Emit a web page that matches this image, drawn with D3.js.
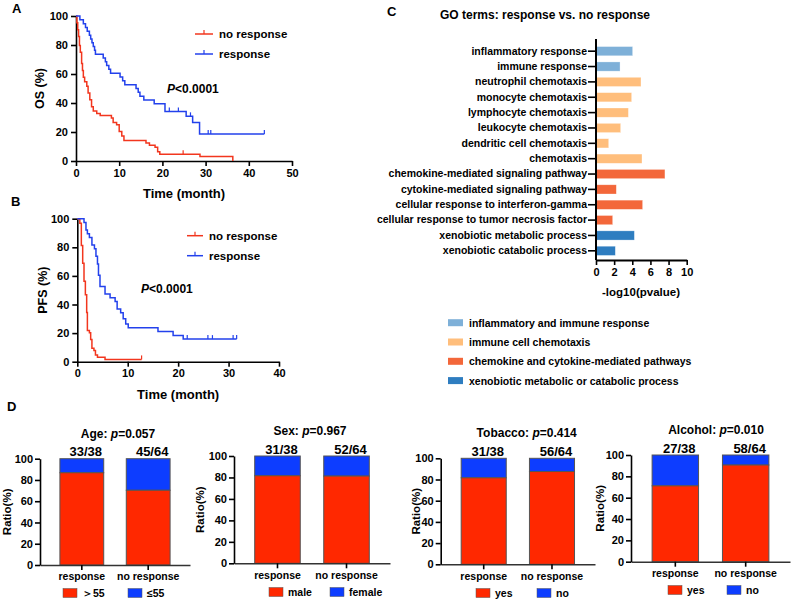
<!DOCTYPE html>
<html><head><meta charset="utf-8">
<script src="https://cdn.jsdelivr.net/npm/d3@7"></script>
<style>
body{margin:0;background:#fff}
svg text{font-family:"Liberation Sans",Arial,Helvetica,sans-serif;font-weight:bold;fill:#000}
</style>
</head><body>
<svg id="c" width="791" height="600"></svg>
<script>
// ---------------- DATA ----------------
// Panel A: overall survival (OS, %)
const osNoRespTime = [0, 0.2, 0.4, 0.6, 0.8, 1.0, 1.3, 1.5, 1.7, 2.0, 2.5, 2.8, 3.2, 3.6, 4.0, 4.8, 5.6, 8.2, 8.6, 9.4, 10.0, 10.6, 11.1, 16.2, 17.0, 18.3, 18.9, 19.4, 28.7, 36.3];
const osNoRespSurv = [100, 95.3, 90.6, 85.9, 79.7, 75.0, 67.2, 62.5, 57.8, 54.7, 51.6, 46.9, 42.2, 37.5, 34.4, 32.8, 31.3, 29.7, 26.6, 25.0, 20.3, 17.2, 14.1, 12.5, 10.9, 9.4, 6.3, 4.7, 3.1, 0];
const osNoRespCensor = [24.8];
const osNoRespEnd = 36.3;
const osRespTime = [0, 0.9, 1.7, 2.2, 2.6, 3.1, 3.4, 3.7, 4.0, 4.3, 4.5, 6.3, 6.8, 7.1, 7.6, 8.0, 10.2, 10.8, 11.3, 13.9, 14.4, 14.8, 15.7, 18.1, 20.6, 25.5, 27.0, 28.6];
const osRespSurv = [100, 97.4, 94.7, 92.1, 89.5, 86.8, 84.2, 81.6, 78.9, 76.3, 73.7, 71.1, 68.4, 65.8, 63.2, 60.5, 57.9, 55.3, 52.6, 50.0, 47.4, 44.7, 42.1, 39.5, 34.2, 30.8, 26.5, 18.6];
const osRespCensor = [21.6, 23.7, 26.5, 30.6, 31.2, 43.6];
const osRespEnd = 43.6;
const osXTicks = [0, 10, 20, 30, 40, 50];

// Panel B: progression-free survival (PFS, %)
const pfsNoRespTime = [0, 0.5, 0.8, 1.07, 1.33, 1.6, 1.86, 2.0, 2.4, 2.65, 2.9, 3.3, 3.6, 4.0, 5.5];
const pfsNoRespSurv = [100, 96.9, 81.3, 68.8, 56.3, 46.9, 34.4, 21.9, 20.3, 15.6, 9.4, 7.8, 4.7, 3.1, 1.6];
const pfsNoRespCensor = [12.75];
const pfsNoRespEnd = 12.75;
const pfsRespTime = [0, 1.33, 1.72, 2.0, 2.4, 2.9, 3.4, 3.7, 4.0, 4.2, 4.5, 5.5, 6.5, 7.5, 7.9, 8.6, 9.1, 9.6, 10.1, 16.0, 19.0, 21.0];
const pfsRespSurv = [100, 97.4, 92.1, 89.5, 86.8, 81.6, 78.9, 73.7, 68.4, 60.5, 52.6, 47.4, 44.7, 42.1, 36.8, 34.2, 30.0, 26.3, 23.7, 21.1, 18.4, 15.8];
const pfsRespCensor = [21.8, 25.9, 26.8, 30.9, 31.6];
const pfsRespEnd = 31.6;
const pfsXTicks = [0, 10, 20, 30, 40];

const kmYTicks = [0, 20, 40, 60, 80, 100];
const kmLegend = ["no response", "response"];

// Panel C: GO terms
const goTerms = ["inflammatory response", "immune response", "neutrophil chemotaxis", "monocyte chemotaxis",
  "lymphocyte chemotaxis", "leukocyte chemotaxis", "dendritic cell chemotaxis", "chemotaxis",
  "chemokine-mediated signaling pathway", "cytokine-mediated signaling pathway",
  "cellular response to interferon-gamma", "cellular response to tumor necrosis factor",
  "xenobiotic metabolic process", "xenobiotic catabolic process"];
const goValues = [4.04, 2.65, 4.96, 3.93, 3.57, 2.72, 1.4, 5.07, 7.6, 2.24, 5.14, 1.84, 4.23, 2.13];
const goGroup = [0, 0, 1, 1, 1, 1, 1, 1, 2, 2, 2, 2, 3, 3];
const goLegend = ["inflammatory and immune response", "immune cell chemotaxis",
  "chemokine and cytokine-mediated pathways", "xenobiotic metabolic or catabolic process"];
const goXTicks = [0, 2, 4, 6, 8, 10];

// Panel D: clinical features
const demoTitles = ["Age", "Sex", "Tobacco", "Alcohol"];
const demoP = ["0.057", "0.967", "0.414", "0.010"];
const demoGroups = ["response", "no response"];
const demoCounts = [["33/38", "45/64"], ["31/38", "52/64"], ["31/38", "56/64"], ["27/38", "58/64"]];
const demoRedPct = [[86.8, 70.3], [81.6, 81.3], [81.6, 87.5], [71.1, 90.6]];
const demoLegend = [["＞55", "≤55"], ["male", "female"], ["yes", "no"], ["yes", "no"]];
const demoYTicks = [0, 20, 40, 60, 80, 100];

// ---------------- STYLE ----------------
const KM_RED = "#F2361E", KM_BLUE = "#2341EC";
const BAR_RED = "#FF2800", BAR_BLUE = "#0D3DFF";
const GO_COLORS = ["#7EB0D8", "#FFBE7C", "#F3673A", "#2E7DC0"];

const svg = d3.select("#c");

function styleAxis(a, fs) {
  a.selectAll("path,line").attr("stroke", "#000").attr("stroke-width", 1.6);
  a.selectAll("text").attr("font-size", fs).attr("font-weight", "bold").attr("fill", "#000")
    .style("font-family", '"Liberation Sans",Arial,sans-serif');
}

function label(txt, x, y, fs, anchor) {
  return svg.append("text").attr("x", x).attr("y", y).attr("font-size", fs)
    .attr("text-anchor", anchor || "start").text(txt);
}

// ---------------- KM PANELS ----------------
function survAt(time, surv, c) {
  let v = surv[0];
  for (let i = 0; i < time.length; i++) if (time[i] <= c) v = surv[i];
  return v;
}

function kmPanel(cfg) {
  const x = d3.scaleLinear().domain([0, cfg.xMax]).range(cfg.xRange);
  const y = d3.scaleLinear().domain([0, 100]).range(cfg.yRange);
  const g = svg.append("g");
  const ax = g.append("g").attr("transform", `translate(0,${cfg.yRange[0]})`)
    .call(d3.axisBottom(x).tickValues(cfg.xTicks).tickSize(5).tickSizeOuter(0).tickPadding(3));
  const ay = g.append("g").attr("transform", `translate(${cfg.xRange[0]},0)`)
    .call(d3.axisLeft(y).tickValues(kmYTicks).tickSize(5).tickSizeOuter(0).tickPadding(3));
  styleAxis(ax, 11); styleAxis(ay, 11);
  cfg.series.forEach(s => {
    const pts = s.time.map((t, i) => [t, s.surv[i]]);
    if (s.end > s.time[s.time.length - 1]) pts.push([s.end, s.surv[s.surv.length - 1]]);
    g.append("path")
      .attr("d", d3.line().x(d => x(d[0])).y(d => y(d[1])).curve(d3.curveStepAfter)(pts))
      .attr("fill", "none").attr("stroke", s.color).attr("stroke-width", 1.5);
    s.censor.forEach(c => {
      const v = survAt(s.time, s.surv, c);
      g.append("line").attr("x1", x(c)).attr("x2", x(c)).attr("y1", y(v)).attr("y2", y(v) - 4)
        .attr("stroke", s.color).attr("stroke-width", 1.2);
    });
  });
  // legend
  cfg.series.forEach((s, i) => {
    const ly = cfg.legY + i * 20;
    g.append("line").attr("x1", cfg.legX).attr("x2", cfg.legX + cfg.legW).attr("y1", ly).attr("y2", ly)
      .attr("stroke", s.color).attr("stroke-width", 1.5);
    g.append("line").attr("x1", cfg.legX + cfg.legW / 2).attr("x2", cfg.legX + cfg.legW / 2)
      .attr("y1", ly).attr("y2", ly - 4).attr("stroke", s.color).attr("stroke-width", 1.2);
    label(kmLegend[i], cfg.legX + cfg.legW + 6, ly + 4, 11.5);
  });
  // P value
  const pt = svg.append("text").attr("x", cfg.pX).attr("y", cfg.pY).attr("font-size", 12);
  pt.append("tspan").attr("font-style", "italic").text("P");
  pt.append("tspan").text("<0.0001");
  // axis titles
  label("Time (month)", (cfg.xRange[0] + cfg.xRange[1]) / 2, cfg.yRange[0] + 37, 13, "middle");
  svg.append("text").attr("transform", `translate(${cfg.yLabX},${(cfg.yRange[0] + cfg.yRange[1]) / 2}) rotate(-90)`)
    .attr("text-anchor", "middle").attr("font-size", 12.5).text(cfg.yTitle);
}

kmPanel({
  xMax: 50, xRange: [76, 292], yRange: [161, 16], xTicks: osXTicks, yTitle: "OS (%)", yLabX: 43.5,
  legX: 195, legW: 18, legY: 34, pX: 167, pY: 93,
  series: [
    { time: osNoRespTime, surv: osNoRespSurv, censor: osNoRespCensor, end: osNoRespEnd, color: KM_RED },
    { time: osRespTime, surv: osRespSurv, censor: osRespCensor, end: osRespEnd, color: KM_BLUE }
  ]
});
kmPanel({
  xMax: 40, xRange: [77.3, 279], yRange: [361.7, 218.7], xTicks: pfsXTicks, yTitle: "PFS (%)", yLabX: 47,
  legX: 187, legW: 16, legY: 235.7, pX: 141, pY: 293,
  series: [
    { time: pfsNoRespTime, surv: pfsNoRespSurv, censor: pfsNoRespCensor, end: pfsNoRespEnd, color: KM_RED },
    { time: pfsRespTime, surv: pfsRespSurv, censor: pfsRespCensor, end: pfsRespEnd, color: KM_BLUE }
  ]
});

// ---------------- GO PANEL ----------------
(function () {
  const y = d3.scaleBand().domain(goTerms).range([43.5, 258.5]).paddingInner(0.4).paddingOuter(0.2);
  const x = d3.scaleLinear().domain([0, 10]).range([596, 686.7]);
  const g = svg.append("g");
  g.selectAll("rect.bar").data(goTerms).join("rect").attr("class", "bar")
    .attr("x", x(0)).attr("y", d => y(d)).attr("height", y.bandwidth())
    .attr("width", (d, i) => x(goValues[i]) - x(0))
    .attr("fill", (d, i) => GO_COLORS[goGroup[i]])
    .attr("stroke", "#fff").attr("stroke-opacity", 0.5).attr("stroke-width", 0.6);
  const ay = g.append("g").attr("transform", `translate(${x(0)},0)`)
    .call(d3.axisLeft(y).tickSize(8).tickSizeOuter(0).tickPadding(1));
  styleAxis(ay, 10.5);
  ay.select(".domain").remove();
  g.append("line").attr("x1", x(0)).attr("x2", x(0)).attr("y1", 39).attr("y2", 260)
    .attr("stroke", "#000").attr("stroke-width", 2);
  const ax = g.append("g").attr("transform", "translate(0,260)")
    .call(d3.axisBottom(x).tickValues(goXTicks).tickSize(5).tickSizeOuter(0).tickPadding(3));
  styleAxis(ax, 11);
  ax.select(".domain").attr("stroke-width", 2);
  label("-log10(pvalue)", 641, 296, 11.5, "middle");
  label("GO terms: response vs. no response", 545, 19, 12, "middle");
  goLegend.forEach((t, i) => {
    const ly = 322.7 + i * 19.3;
    g.append("rect").attr("x", 448).attr("y", ly - 3.5).attr("width", 15).attr("height", 7).attr("fill", GO_COLORS[i]);
    label(t, 469, ly + 4, 10.5);
  });
})();

// ---------------- DEMOGRAPHIC PANELS ----------------
const dLayout = [
  { x0: 40, x1: 190, yTop: 458.7, yBot: 565, lab: 33, titleX: 118, leg: [63, 128], legY: 593 },
  { x0: 234, x1: 390, yTop: 456, yBot: 563.3, lab: 34, titleX: 310, leg: [269, 330], legY: 592 },
  { x0: 440.7, x1: 595, yTop: 458.3, yBot: 564.3, lab: 25, titleX: 526.7, leg: [476, 537], legY: 593 },
  { x0: 631, x1: 790, yTop: 455, yBot: 561.7, lab: 31, titleX: 716, leg: [668, 727], legY: 590 }
];
demoTitles.forEach((title, k) => {
  const L = dLayout[k];
  const x = d3.scaleBand().domain(demoGroups).range([L.x0, L.x1]).paddingInner(0.34).paddingOuter(0.3);
  const y = d3.scaleLinear().domain([0, 100]).range([L.yBot, L.yTop]);
  const g = svg.append("g");
  demoGroups.forEach((grp, j) => {
    const red = demoRedPct[k][j];
    g.append("rect").attr("x", x(grp)).attr("width", x.bandwidth()).attr("y", y(100)).attr("height", y(red) - y(100))
      .attr("fill", BAR_BLUE).attr("stroke", "#555").attr("stroke-width", 1);
    g.append("rect").attr("x", x(grp)).attr("width", x.bandwidth()).attr("y", y(red)).attr("height", y(0) - y(red))
      .attr("fill", BAR_RED).attr("stroke", "#555").attr("stroke-width", 1);
    label(demoCounts[k][j], x(grp) + x.bandwidth() / 2 + 4, L.yTop - 2.5, 13, "middle");
  });
  const ax = g.append("g").attr("transform", `translate(0,${L.yBot})`)
    .call(d3.axisBottom(x).tickSize(5).tickSizeOuter(0).tickPadding(3));
  styleAxis(ax, 10.5);
  ax.select(".domain").attr("stroke", "#333");
  const ay = g.append("g").attr("transform", `translate(${L.x0},0)`)
    .call(d3.axisLeft(y).tickValues(demoYTicks).tickSize(5).tickSizeOuter(0).tickPadding(2));
  styleAxis(ay, 11);
  svg.append("text").attr("transform", `translate(${L.x0 - L.lab + 4},${(L.yTop + L.yBot) / 2}) rotate(-90)`)
    .attr("text-anchor", "middle").attr("font-size", 11.5).text("Ratio(%)");
  const tt = svg.append("text").attr("x", L.titleX).attr("y", L.yTop - 21).attr("font-size", 12).attr("text-anchor", "middle");
  tt.append("tspan").text(title + ": ");
  tt.append("tspan").attr("font-style", "italic").text("p");
  tt.append("tspan").text("=" + demoP[k]);
  [BAR_RED, BAR_BLUE].forEach((c, j) => {
    g.append("rect").attr("x", L.leg[j]).attr("y", L.legY - 4.5).attr("width", 14).attr("height", 9)
      .attr("fill", c).attr("stroke", "#555").attr("stroke-width", 0.5);
    label(demoLegend[k][j], L.leg[j] + 19, L.legY + 4, 10.5);
  });
});

// ---------------- PANEL LETTERS ----------------
label("A", 12, 13, 13);
label("B", 11, 206, 13);
label("C", 387, 16, 13);
label("D", 7, 411, 13);
</script>
</body></html>
